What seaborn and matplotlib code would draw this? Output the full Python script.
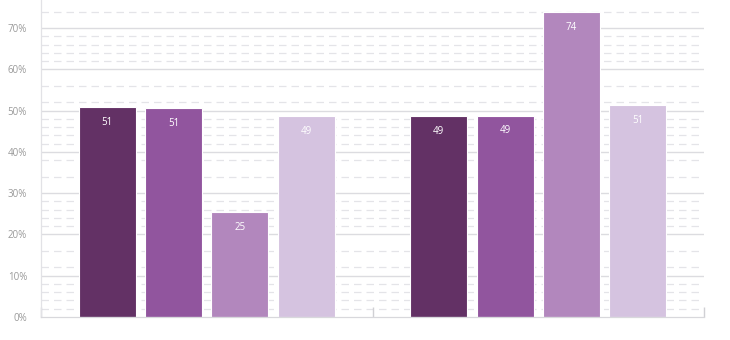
import matplotlib
matplotlib.use("Agg")
import matplotlib.pyplot as plt
import seaborn as sns
import pandas as pd
import numpy as np

# Data
groups = ["A", "B"]
series = ["S1", "S2", "S3", "S4"]
values_a = [50.8, 50.6, 25.4, 48.6]
values_b = [48.6, 48.8, 73.8, 51.4]
palette = ["#633165", "#91559e", "#b287bd", "#d5c3e0"]
major_ticks = [0, 10, 20, 30, 40, 50, 60, 70]
minor_lines = [2, 4, 6, 8, 12, 16, 22, 24, 26, 28, 34, 38,
               42, 44, 46, 48, 52, 56, 62, 64, 66, 68, 74]

df = pd.DataFrame({
    "group": np.repeat(groups, len(series)),
    "series": series * len(groups),
    "value": values_a + values_b,
})

sns.set_theme(style="white")
plt.rcParams["font.family"] = ["Open Sans", "DejaVu Sans"]

fig = plt.figure(figsize=(7.3, 3.4), dpi=100)
ax = fig.add_axes([41 / 730, 23 / 340, (704 - 41) / 730, 317 / 340])

# background grid: dashed minor lines, solid major lines
for y in minor_lines:
    ax.axhline(y, color="#e4e4e8", lw=0.9, ls=(0, (6, 4)), zorder=0)
for y in major_ticks[1:]:
    ax.axhline(y, color="#dcdce0", lw=1.0, zorder=0)

sns.barplot(data=df, x="group", y="value", hue="series", palette=palette,
            saturation=1, width=0.8, gap=0.14, dodge=True,
            edgecolor="white", linewidth=0.8, legend=False, ax=ax, zorder=2)

for cont in ax.containers:
    ax.bar_label(cont, labels=[f"{v:.0f}" for v in cont.datavalues],
                 label_type="edge", padding=-15, color="white", fontsize=7)

ax.set_xlim(-0.5, 1.5)
ax.set_ylim(0, 76.8)
ax.set_yticks(major_ticks)
ax.set_yticklabels([f"{t}%" for t in major_ticks], color="#9a9a9a", fontsize=7)
ax.tick_params(axis="y", left=False, length=0, pad=10)
ax.set_xticks([0, 1])
ax.set_xticklabels(["", ""])
ax.set_xticks([-0.5, 0.5, 1.5], minor=True)
ax.tick_params(axis="x", which="both", bottom=True)
ax.tick_params(axis="x", which="major", length=0)
ax.tick_params(axis="x", which="minor", direction="in", length=7,
               color="#d0d0d4", width=1.0)
ax.set_xlabel("")
ax.set_ylabel("")

for side in ["top", "right"]:
    ax.spines[side].set_visible(False)
ax.spines["left"].set_color("#e2e2e6")
ax.spines["left"].set_linewidth(0.9)
ax.spines["bottom"].set_color("#d8d8dc")
ax.spines["bottom"].set_linewidth(0.9)

fig.savefig("out.png", dpi=100)
